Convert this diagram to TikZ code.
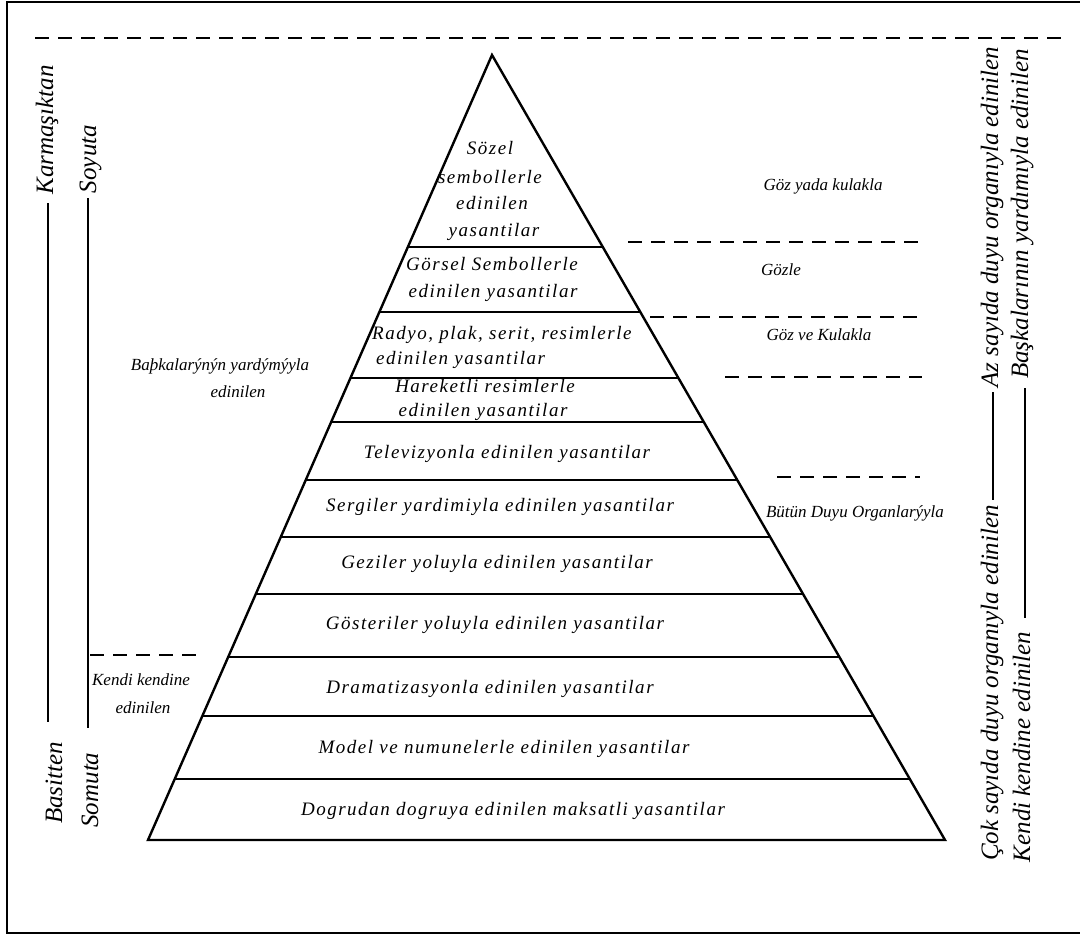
\documentclass[tikz,border=0pt]{standalone}
\usepackage{fontspec}
\setmainfont{Liberation Serif}
\newfontfamily\spacedfont[LetterSpace=8]{Liberation Serif}
\usetikzlibrary{calc}
\begin{document}
\begin{tikzpicture}[x=1pt,y=-1pt,
  layertext/.style={font={\spacedfont\itshape\fontsize{19}{23}\selectfont}, inner sep=0pt, anchor=base},
  sidetext/.style={font={\itshape\fontsize{17}{20}\selectfont}, inner sep=0pt, anchor=base},
  vtext/.style={font={\itshape\fontsize{25}{30}\selectfont}, inner sep=0pt, anchor=base, rotate=90},
  dline/.style={line width=1.8pt, dash pattern=on 14pt off 9pt},
  pedge/.style={line width=2.4pt, line join=miter},
  layer/.style={line width=1.8pt},
  vline/.style={line width=1.8pt},
]
\useasboundingbox (0,0) rectangle (1080,937);
% frame
\draw[line width=1.6pt] (1080,2) -- (7,2) -- (7,933) -- (1080,933);
% top dashed line
\coordinate (tdl) at (35,38); \coordinate (tdr) at (1062,38);
\draw[dline] (tdl) -- (tdr);

% pyramid
\coordinate (apex) at (492,55);
\coordinate (bl) at (148,840);
\coordinate (br) at (945,840);
\draw[pedge] (bl) -- (apex) -- (br) -- cycle;
\foreach \yy in {247,312,378,422,480,537,594,657,716,779}{
  \draw[layer] ($(apex)!{(\yy-55)/785}!(bl)$) -- ($(apex)!{(\yy-55)/785}!(br)$);
}

% layer texts
\node[layertext] (s1) at (490,154) {Sözel};
\node[layertext] (s2) at (490,183) {sembollerle};
\node[layertext] (s3) at (492,209) {edinilen};
\node[layertext] (s4) at (494,236) {yasantilar};
\node[layertext] (g1) at (492,270) {Görsel Sembollerle};
\node[layertext] (g2) at (493,297) {edinilen yasantilar};
\node[layertext, anchor=base west] (r1) at (372,339) {Radyo, plak, serit, resimlerle};
\node[layertext, anchor=base west] (r2) at (376,364) {edinilen yasantilar};
\node[layertext] (h1) at (485,392) {Hareketli resimlerle};
\node[layertext] (h2) at (483,416) {edinilen yasantilar};
\node[layertext] (tv) at (507,458) {Televizyonla edinilen yasantilar};
\node[layertext] (sg) at (500,511) {Sergiler yardimiyla edinilen yasantilar};
\node[layertext] (gz) at (497,568) {Geziler yoluyla edinilen yasantilar};
\node[layertext] (gs) at (495,629) {Gösteriler yoluyla edinilen yasantilar};
\node[layertext] (dr) at (490,693) {Dramatizasyonla edinilen yasantilar};
\node[layertext] (md) at (504,753) {Model ve numunelerle edinilen yasantilar};
\node[layertext] (dg) at (513,815) {Dogrudan dogruya edinilen maksatli yasantilar};

% right labels and dashed lines
\node[sidetext] (gyk) at (823,190) {Göz yada kulakla};
\node[sidetext] (gzl) at (781,275) {Gözle};
\node[sidetext] (gvk) at (819,340) {Göz ve Kulakla};
\node[sidetext] (bdo) at (855,517) {Bütün Duyu Organlarýyla};
\coordinate (d1a) at (628,242); \coordinate (d1b) at (925,242);
\coordinate (d2a) at (650,317); \coordinate (d2b) at (922,317);
\coordinate (d3a) at (725,377); \coordinate (d3b) at (922,377);
\coordinate (d4a) at (777,477); \coordinate (d4b) at (920,477);
\draw[dline] (d1a) -- (d1b);
\draw[dline] (d2a) -- (d2b);
\draw[dline] (d3a) -- (d3b);
\draw[dline] (d4a) -- (d4b);

% left labels
\node[sidetext] (bk1) at (220,370) {Baþkalarýnýn yardýmýyla};
\node[sidetext] (bk2) at (238,397) {edinilen};
\node[sidetext] (kk1) at (141,685) {Kendi kendine};
\node[sidetext] (kk2) at (143,713) {edinilen};
\coordinate (lda) at (90,655); \coordinate (ldb) at (203,655);
\draw[dline] (lda) -- (ldb);

% left vertical texts and lines
\node[vtext] (karm) at (53,130) {Karmaşıktan};
\node[vtext] (soy) at (96,159) {Soyuta};
\node[vtext] (bas) at (62,783) {Basitten};
\node[vtext] (som) at (98,790) {Somuta};
\coordinate (k1) at (48,203); \coordinate (k2) at (48,722);
\coordinate (so1) at (88,198); \coordinate (so2) at (88,728);
\draw[vline] (k1) -- (k2);
\draw[vline] (so1) -- (so2);

% right vertical texts and lines
\node[vtext] (az) at (998,217) {Az sayıda duyu organıyla edinilen};
\node[vtext] (bask) at (1028,214) {Başkalarının yardımıyla edinilen};
\node[vtext] (cok) at (998,683) {Çok sayıda duyu organıyla edinilen};
\node[vtext] (kend) at (1030,747) {Kendi kendine edinilen};
\coordinate (a1) at (993,392); \coordinate (a2) at (993,500);
\coordinate (b1) at (1025,388); \coordinate (b2) at (1025,618);
\draw[vline] (a1) -- (a2);
\draw[vline] (b1) -- (b2);
\end{tikzpicture}
\end{document}
